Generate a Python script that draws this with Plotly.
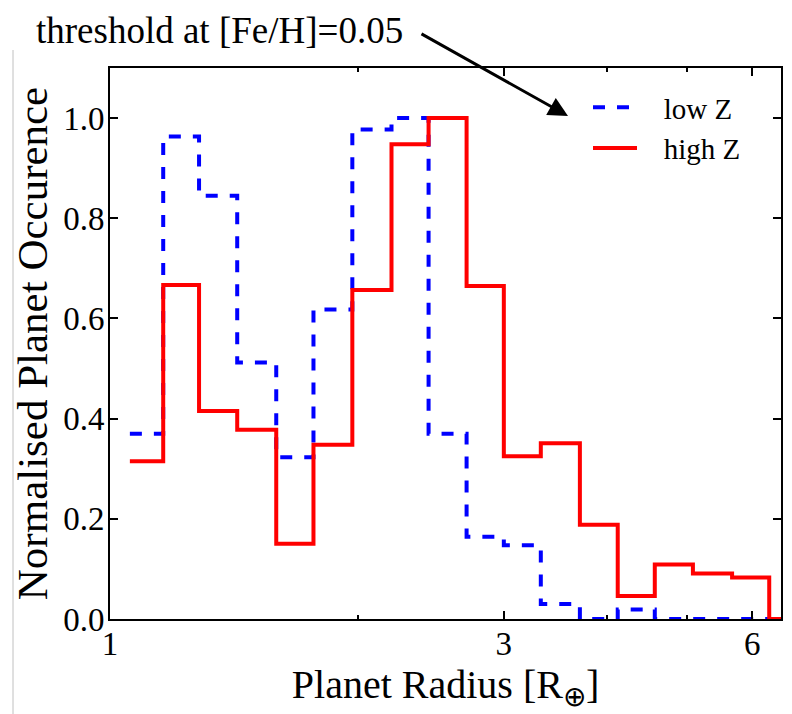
import plotly.graph_objects as go
import math

# ---- data ----
bin_edges = [1.057, 1.160, 1.282, 1.426, 1.590, 1.764, 1.966, 2.193, 2.432,
             2.704, 3.000, 3.326, 3.709, 4.122, 4.571, 5.084, 5.671, 6.29, 7.0]
low_z = [0.370, 0.963, 0.845, 0.512, 0.323, 0.618, 0.977, 1.000, 0.370,
         0.164, 0.147, 0.030, 0.000, 0.019, 0.000, 0.000, 0.000, 0.000]
high_z = [0.315, 0.667, 0.415, 0.378, 0.150, 0.348, 0.657, 0.948, 1.000,
          0.665, 0.325, 0.351, 0.188, 0.046, 0.109, 0.091, 0.083, 0.000]
x_tick_vals = [1, 3, 6]
x_tick_text = ["1", "3", "6"]
x_minor_vals = [2, 4, 5]
y_tick_vals = [0.0, 0.2, 0.4, 0.6, 0.8, 1.0]
series_names = ["low Z", "high Z"]

W, H = 792, 714
L, R, T, B = 110, 11, 68, 95
pw, ph = W - L - R, H - T - B


def px_to_paper(px, py):
    return (px - L) / pw, (H - B - py) / ph


def step_xy(edges, vals):
    return list(edges), list(vals) + [vals[-1]]


pad = "\u00a0\u00a0\u00a0"  # extra gap between legend line and label

fig = go.Figure()
x1, y1 = step_xy(bin_edges, low_z)
fig.add_trace(go.Scatter(x=x1, y=y1, mode="lines", line_shape="hv", name=pad + series_names[0],
                         line=dict(color="#0000ff", width=4, dash="12px,12px")))
x2, y2 = step_xy(bin_edges, high_z)
fig.add_trace(go.Scatter(x=x2, y=y2, mode="lines", line_shape="hv", name=pad + series_names[1],
                         line=dict(color="#ff0000", width=4)))

serif = "Liberation Serif"
fig.update_layout(
    width=W, height=H,
    margin=dict(l=L, r=R, t=T, b=B, autoexpand=False),
    paper_bgcolor="white", plot_bgcolor="white",
    showlegend=True,
    legend=dict(x=px_to_paper(588, 0)[0], y=px_to_paper(0, 82)[1], xanchor="left", yanchor="top",
                itemwidth=44,
                bgcolor="rgba(0,0,0,0)", font=dict(family=serif, size=29, color="black")),
    xaxis=dict(type="log", range=[0, math.log10(6.5)],
               tickmode="array", tickvals=x_tick_vals, ticktext=x_tick_text,
               ticks="inside", ticklen=8, tickwidth=1.5, tickcolor="black",
               minor=dict(tickmode="array", tickvals=x_minor_vals, ticks="inside", ticklen=4,
                          tickcolor="black", tickwidth=1.5),
               showline=True, linecolor="black", linewidth=2, mirror="ticks",
               showgrid=False, zeroline=False, ticklabelstandoff=-6,
               tickfont=dict(family=serif, size=33, color="black"),
               title=dict(text="Planet Radius [R<sub>⊕</sub>]", font=dict(family=serif, size=40, color="black"),
                          standoff=0),
               automargin=False),
    yaxis=dict(range=[0, 1.1], tickmode="array", tickvals=y_tick_vals, tickformat=".1f",
               ticks="inside", ticklen=8, tickwidth=1.5, tickcolor="black",
               showline=True, linecolor="black", linewidth=2, mirror="ticks",
               showgrid=False, zeroline=False, ticklabelstandoff=-3,
               tickfont=dict(family=serif, size=33, color="black"),
               title=dict(text="Normalised Planet Occurence", font=dict(family=serif, size=43, color="black"),
                          standoff=2),
               automargin=False),
)

# annotation text
tx, ty = px_to_paper(34, 30)
fig.add_annotation(xref="paper", yref="paper", x=tx, y=ty, xanchor="left", yanchor="middle",
                   text="threshold at [Fe/H]=0.05", showarrow=False,
                   font=dict(family=serif, size=37, color="black"))
# arrow
hx, hy = px_to_paper(568, 116)
fig.add_annotation(xref="paper", yref="paper", x=hx, y=hy, text="", showarrow=True,
                   ax=420 - 568, ay=33 - 116, arrowhead=2, arrowsize=1.3, arrowwidth=3,
                   arrowcolor="black", standoff=0, startstandoff=0)

# thin gray frame line at left (from the source image)
gx0, gy0 = px_to_paper(13, 714)
gx1, gy1 = px_to_paper(13, 50)
fig.add_shape(type="line", xref="paper", yref="paper", x0=gx0, x1=gx1, y0=gy0, y1=gy1,
              line=dict(color="#c0c0c0", width=1))

fig.write_html("out.html")
